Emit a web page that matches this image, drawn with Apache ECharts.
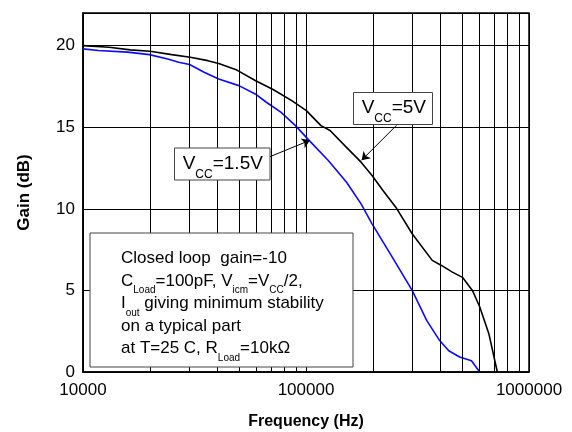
<!DOCTYPE html>
<html>
<head>
<meta charset="utf-8">
<script src="https://cdn.jsdelivr.net/npm/echarts@6/dist/echarts.min.js"></script>
<style>html,body{margin:0;padding:0;background:#fff;}#c{width:572px;height:432px;}</style>
</head>
<body>
<div id="c"></div>
<script>
// ---- data ----
const freq5V = [10000, 13100, 16290, 20000, 25000, 30250, 36300, 40600, 49000, 59200, 71500, 86300, 100400, 116700, 128200, 151500, 176600, 197800, 221400, 252700, 299300, 368200, 404900, 453300, 503000, 557400, 601000, 660600, 721000];
const gain5V = [20.0, 19.9, 19.74, 19.66, 19.45, 19.29, 19.08, 18.9, 18.5, 17.86, 17.3, 16.63, 16.02, 15.1, 14.8, 13.78, 12.86, 12.04, 11.12, 10.1, 8.47, 6.84, 6.53, 6.12, 5.8, 5.0, 4.0, 2.35, 0.0];
const freq15V = [10000, 11720, 15850, 19850, 23990, 26850, 30060, 34920, 40600, 50000, 59200, 66400, 77100, 89700, 103500, 125900, 152000, 176600, 197800, 238800, 299300, 347600, 397000, 436500, 488600, 552000, 601000];
const gain15V = [19.8, 19.7, 19.6, 19.45, 19.18, 18.98, 18.84, 18.37, 17.96, 17.55, 17.04, 16.53, 15.92, 15.1, 14.18, 12.96, 11.63, 10.3, 9.08, 7.24, 5.0, 3.16, 1.94, 1.3, 0.92, 0.69, 0.0];
const minorFreqs = [20000, 30000, 40000, 50000, 60000, 70000, 80000, 90000, 200000, 300000, 400000, 500000, 600000, 700000, 800000, 900000];
const xTickLabels = ['10000', '100000', '1000000'];
const yTicks = [0, 5, 10, 15, 20];
// annotation arrows: [start, tip] in data coordinates
const arrow5V = [[254700, 15.12], [177600, 12.98]];
const arrow15V = [[68500, 13.18], [104200, 14.2]];

const FONT = 'Liberation Sans, Arial, Helvetica, sans-serif';
const chart = echarts.init(document.getElementById('c'), null, {renderer: 'canvas'});

function pairs(xs, ys) { return xs.map((x, i) => [x, ys[i]]); }

const boxRich = {
  m: {fontSize: 17, lineHeight: 20, verticalAlign: 'top', fontFamily: FONT, fill: '#000'},
  s: {fontSize: 10, verticalAlign: 'top', padding: [13, 0, 0, 0], fontFamily: FONT, fill: '#000'}
};
const lblRich = {
  m: {fontSize: 19, lineHeight: 24, verticalAlign: 'top', fontFamily: FONT, fill: '#000'},
  s: {fontSize: 12, verticalAlign: 'top', padding: [14.5, 0, 0, 0], fontFamily: FONT, fill: '#000'}
};
const boxLines = [
  '{m|Closed loop  gain=-10}',
  '{m|C}{s|Load}{m|=100pF, V}{s|icm}{m|=V}{s|CC}{m|/2,}',
  '{m|I}{s|out}{m| giving minimum stability}',
  '{m|on a typical part}',
  '{m|at T=25 C, R}{s|Load}{m|=10kΩ}'
];
const boxLineCenters = [257.5, 280, 302.5, 325, 347.8];

const graphics = [
  {type: 'rect', z: 100, shape: {x: 90, y: 233, width: 263, height: 134},
   style: {fill: '#fff', stroke: '#444', lineWidth: 1}},
  {type: 'rect', z: 100, shape: {x: 353.5, y: 92.5, width: 79, height: 32},
   style: {fill: '#fff', stroke: '#444', lineWidth: 1}},
  {type: 'text', z: 101, style: {text: '{m|V}{s|CC}{m|=5V}', x: 361.7, y: 105.3 - 7.5, align: 'left', verticalAlign: 'top', rich: lblRich}},
  {type: 'rect', z: 100, shape: {x: 174.5, y: 148, width: 95.5, height: 32},
   style: {fill: '#fff', stroke: '#444', lineWidth: 1}},
  {type: 'text', z: 101, style: {text: '{m|V}{s|CC}{m|=1.5V}', x: 182.7, y: 161.7 - 7.5, align: 'left', verticalAlign: 'top', rich: lblRich}}
];
boxLines.forEach((t, i) => {
  graphics.push({type: 'text', z: 101, style: {text: t, x: 121, y: boxLineCenters[i] - 7.5, align: 'left', verticalAlign: 'top', rich: boxRich}});
});

const option = {
  animation: false,
  backgroundColor: '#fff',
  grid: {left: 83, right: 43, top: 13, bottom: 60, outerBoundsMode: 'none', containLabel: false,
    show: true, borderColor: '#000', borderWidth: 1.5, backgroundColor: 'transparent'},
  xAxis: {
    type: 'log', logBase: 10, min: 10000, max: 1000000,
    name: 'Frequency (Hz)', nameLocation: 'middle', nameGap: 42,
    nameTextStyle: {fontFamily: FONT, fontWeight: 'bold', fontSize: 16, color: '#000'},
    axisLine: {show: true, lineStyle: {color: '#000', width: 1.5}},
    axisTick: {show: false},
    axisLabel: {fontFamily: FONT, fontSize: 17, color: '#000', margin: 10,
      formatter: v => { const s = String(Math.round(v)); return xTickLabels.indexOf(s) >= 0 ? s : ''; }},
    splitLine: {show: true, lineStyle: {color: '#000', width: 1}},
    minorTick: {show: false}, minorSplitLine: {show: false}
  },
  yAxis: {
    type: 'value', min: 0, max: 22, interval: 5,
    name: 'Gain (dB)', nameLocation: 'middle', nameGap: 50,
    nameTextStyle: {fontFamily: FONT, fontWeight: 'bold', fontSize: 17, color: '#000'},
    axisLine: {show: true, lineStyle: {color: '#000', width: 1.5}},
    axisTick: {show: false},
    axisLabel: {fontFamily: FONT, fontSize: 17, color: '#000', margin: 8,
      formatter: v => yTicks.indexOf(Math.round(v)) >= 0 && Math.abs(v - Math.round(v)) < 1e-6 ? String(Math.round(v)) : ''},
    splitLine: {show: true, lineStyle: {color: '#000', width: 1}}
  },
  series: [
    {type: 'line', name: 'grid', data: [], silent: true, z: 1,
     markLine: {silent: true, symbol: ['none', 'none'], animation: false, label: {show: false},
       lineStyle: {color: '#000', width: 1, type: 'solid'},
       emphasis: {disabled: true},
       data: minorFreqs.map(f => ({xAxis: f}))}},
    {type: 'line', name: 'VCC=5V', data: pairs(freq5V, gain5V), showSymbol: false, symbol: 'none', z: 3,
     lineStyle: {color: '#000', width: 1.6}, itemStyle: {color: '#000'}},
    {type: 'line', name: 'VCC=1.5V', data: pairs(freq15V, gain15V), showSymbol: false, symbol: 'none', z: 4,
     lineStyle: {color: '#0a0aff', width: 1.6}, itemStyle: {color: '#0a0aff'}},
    {type: 'line', name: 'arrows', data: [], silent: true, z: 200, zlevel: 0,
     markLine: {silent: true, symbol: ['none', 'arrow'], symbolSize: 8, animation: false, label: {show: false},
       lineStyle: {color: '#000', width: 1, type: 'solid'},
       emphasis: {disabled: true},
       data: [
         [{coord: arrow5V[0]}, {coord: arrow5V[1]}],
         [{coord: arrow15V[0]}, {coord: arrow15V[1]}]
       ]}}
  ],
  graphic: graphics
};
chart.setOption(option);
</script>
</body>
</html>
